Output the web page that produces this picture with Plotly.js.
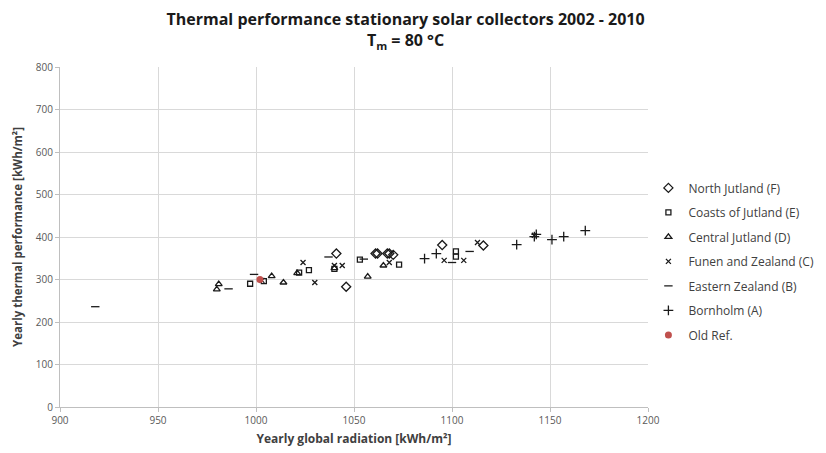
<!DOCTYPE html>
<html>
<head>
<meta charset="utf-8">
<script src="https://cdn.plot.ly/plotly-3.0.1.min.js"></script>
<style>html,body{margin:0;padding:0;background:#fff;}#chart{width:826px;height:453px;}</style>
</head>
<body>
<div id="chart"></div>
<script>
// North Jutland (F)
const northJutlandX = [1041, 1046, 1061, 1062, 1067, 1068, 1070, 1095, 1116];
const northJutlandY = [361, 283, 361, 361, 361, 361, 358, 381, 380];
// Coasts of Jutland (E)
const coastsX = [997, 1004, 1022, 1027, 1040, 1053, 1073, 1102, 1102];
const coastsY = [290, 296, 316, 322, 325, 347, 335, 366, 354];
// Central Jutland (D)
const centralX = [981, 980, 1008, 1014, 1021, 1040, 1057, 1065];
const centralY = [289, 277, 308, 293, 315, 327, 307, 333];
// Funen and Zealand (C)
const funenX = [1003, 1024, 1030, 1040, 1044, 1068, 1096, 1106, 1113, 1142];
const funenY = [298, 340, 293, 333, 333, 340, 345, 345, 387, 404];
// Eastern Zealand (B)
const easternX = [918, 986, 999, 1037, 1055, 1100, 1109];
const easternY = [236, 278, 312, 353, 348, 340, 366];
// Bornholm (A)
const bornholmX = [1086, 1092, 1133, 1142, 1143, 1151, 1157, 1168];
const bornholmY = [349, 361, 382, 401, 406, 394, 401, 415];
// Old Ref.
const oldRefX = [1002];
const oldRefY = [300];

const seriesNames = ["North Jutland (F)", "Coasts of Jutland (E)", "Central Jutland (D)",
  "Funen and Zealand (C)", "Eastern Zealand (B)", "Bornholm (A)", "Old Ref."];

const ink = '#1a1a1a';
function open(x, y, i, symbol, size) {
  return {x: x, y: y, name: seriesNames[i], legendgroup: 'g' + i, type: 'scatter', mode: 'markers',
    marker: {symbol: symbol, size: size, color: ink, line: {color: ink, width: 1.3}}};
}
const data = [
  open(northJutlandX, northJutlandY, 0, 'diamond-open', 7),
  open(coastsX, coastsY, 1, 'square-open', 5),
  open(centralX, centralY, 2, 'triangle-up-open', 6),
  open(funenX, funenY, 3, 'x-thin-open', 5),
  open(easternX, easternY, 4, 'line-ew-open', 6),
  open(bornholmX, bornholmY, 5, 'cross-thin-open', 7),
  {x: oldRefX, y: oldRefY, name: seriesNames[6], legendgroup: 'g6', type: 'scatter', mode: 'markers',
    marker: {symbol: 'circle', size: 7, color: '#c0504d', line: {width: 0}}}
];

const layout = {
  width: 826, height: 453,
  margin: {l: 60, r: 178, t: 67, b: 46},
  paper_bgcolor: '#fff', plot_bgcolor: '#fff',
  font: {family: 'Open Sans, sans-serif', color: '#595959', size: 11},
  title: {
    text: '<b>Thermal performance stationary solar collectors 2002 - 2010</b><br><b>T<sub>m</sub> = 80 °C</b>',
    font: {family: 'Open Sans, sans-serif', size: 16, color: '#1a1a1a'},
    xref: 'container', yref: 'container',
    x: 0.491, xanchor: 'center', y: 0.944, yanchor: 'middle'
  },
  xaxis: {
    range: [900, 1200], dtick: 50, tick0: 900,
    showgrid: true, gridcolor: '#d9d9d9', gridwidth: 1,
    showline: true, linecolor: '#bfbfbf', linewidth: 1,
    ticks: 'outside', ticklen: 4, tickcolor: '#bfbfbf',
    zeroline: false,
    tickfont: {size: 10, color: '#595959'},
    title: {text: '<b>Yearly global radiation [kWh/m²]</b>', font: {size: 12, color: '#404040'}, standoff: 8}
  },
  yaxis: {
    range: [0, 800], dtick: 100,
    showgrid: true, gridcolor: '#d9d9d9', gridwidth: 1,
    showline: true, linecolor: '#bfbfbf', linewidth: 1,
    ticks: 'outside', ticklen: 4, tickcolor: '#bfbfbf',
    zeroline: false,
    tickfont: {size: 10, color: '#595959'},
    title: {text: '<b>Yearly thermal performance [kWh/m²]</b>', font: {size: 11.5, color: '#404040'}, standoff: 10}
  },
  showlegend: true,
  legend: {
    xref: 'container', yref: 'container',
    x: 0.785, xanchor: 'left', y: 0.423, yanchor: 'middle',
    font: {size: 12, color: '#404040'},
    tracegroupgap: 5.5, itemwidth: 30,
    bgcolor: 'rgba(0,0,0,0)'
  }
};

Plotly.newPlot('chart', data, layout, {displayModeBar: false, staticPlot: true});
</script>
</body>
</html>
